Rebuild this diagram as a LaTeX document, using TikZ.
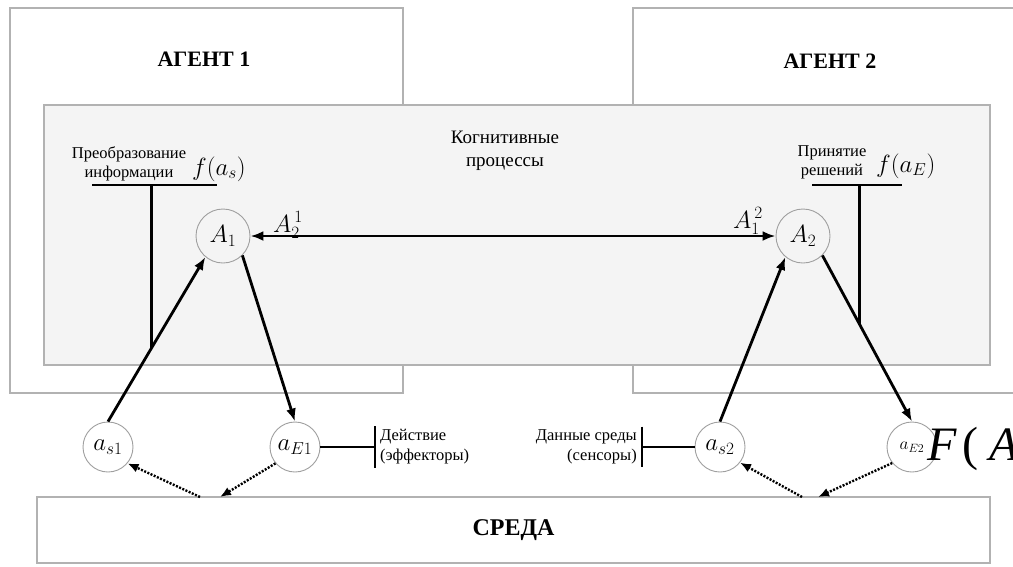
\documentclass[tikz,border=0pt]{standalone}
\usepackage{fontspec}
\setmainfont{Liberation Serif}
\usetikzlibrary{arrows.meta}

\tikzset{
  frame/.style={draw=gray!60, line width=1.2pt},
  agentbox/.style={frame, fill=white},
  cogbox/.style={frame, fill=gray!9},
  envbox/.style={frame, fill=white, minimum width=953pt, minimum height=66pt,
    font=\bfseries\fontsize{24}{24}\selectfont},
  title/.style={font=\bfseries\fontsize{22}{22}\selectfont},
  txt/.style={font=\fontsize{19}{23}\selectfont, align=center},
  note/.style={font=\fontsize{16.5}{19}\selectfont, inner sep=0pt},
  side/.style={font=\fontsize{16.5}{20}\selectfont, inner xsep=5pt, inner ysep=3pt},
  mlabel/.style={font=\fontsize{23}{23}\selectfont, inner sep=0pt},
  state/.style={circle, draw=gray!75, line width=0.9pt, minimum size=54pt,
    inner sep=0pt, font=\fontsize{23}{23}\selectfont},
  sensor/.style={state, fill=white, minimum size=50pt},
  link/.style={line width=2.8pt, >={Latex[length=13pt,width=10pt]}},
  envlink/.style={line width=2.4pt, dash pattern=on 2pt off 1.5pt,
    >={Latex[length=11pt,width=9pt]}},
  bar/.style={line width=2.8pt}
}

\begin{document}
\begin{tikzpicture}[x=1pt,y=-1pt]
\useasboundingbox (0,0) rectangle (1013,566);

% agents
\draw[agentbox] (10,8) rectangle (403,393);
\draw[agentbox] (633,8) rectangle (1030,393);
\node[title] (ag1) at (204,59) {АГЕНТ 1};
\node[title] (ag2) at (830,61) {АГЕНТ 2};

% cognitive layer
\draw[cogbox] (44,105) rectangle (990,365);
\node[txt] (cog) at (505,151) {Когнитивные\\процессы};

% states
\node[state, fill=gray!9] (A1) at (223,236) {$A_1$};
\node[state, fill=gray!9] (A2) at (803,236) {$A_2$};
\node[sensor] (as1) at (108,447) {$a_{s1}$};
\node[sensor] (aE1) at (295,447) {$a_{E1}$};
\node[sensor] (as2) at (720,447) {$a_{s2}$};
\node[sensor, font=\fontsize{18}{18}\selectfont] (aE2) at (912,447) {$a_{E2}$};
\node[anchor=west, inner sep=0pt, font=\fontsize{48}{48}\selectfont] (FA) at (927,449)
  {\textit{F}\kern6pt(\kern11pt\textit{A}};

% environment
\node[envbox] (env) at (513.5,530) {СРЕДА};
\coordinate (e1) at (200,497);
\coordinate (e2) at (220,497);
\coordinate (e3) at (802,497);
\coordinate (e4) at (818,497);

% exchange between agents
\draw[link,<->] (A1) -- (A2);
\node[mlabel] (A21) at (288,225) {$A_2^{\,1}$};
\node[mlabel] (A12) at (748,221) {$A_1^{\,2}$};

% perception / action loops
\draw[link,->] (as1.north) -- coordinate[pos=0.45] (p1) (A1.230);
\draw[link,->] (A1.-45) -- (aE1.north);
\draw[link,->] (as2.north) -- (A2.230);
\draw[link,->] (A2.-45) -- coordinate[pos=0.41] (p2) (aE2.north);

\draw[envlink,->] (e1) -- (as1.-40);
\draw[envlink,->] (aE1.220) -- (e2);
\draw[envlink,->] (e3) -- (as2.-38);
\draw[envlink,->] (aE2.219) -- (e4);

% callouts
\coordinate (convL) at (92,185);
\coordinate (convR) at (217,185);
\draw[bar] (convL) -- (convR);
\draw[bar] (p1) -- (p1 |- convL);
\node[note, align=center] (conv) at (129,164) {Преобразование\\информации};
\node[mlabel, anchor=west] (fas) at (192,169) {$f(a_s)$};

\coordinate (decL) at (812,185);
\coordinate (decR) at (902,185);
\draw[bar] (decL) -- (decR);
\draw[bar] (p2) -- (p2 |- decL);
\node[note, align=center] (dec) at (832,162) {Принятие\\решений};
\node[mlabel, anchor=west] (fae) at (876,166) {$f(a_E)$};

\node[side, anchor=west, align=left] (act) at (375,447) {Действие\\(эффекторы)};
\draw[bar] (act.north west) -- (act.south west);
\draw[line width=2.2pt] (aE1.east) -- (act.west);

\node[side, anchor=east, align=right] (sens) at (642,447) {Данные среды\\(сенсоры)};
\draw[bar] (sens.north east) -- (sens.south east);
\draw[line width=2.2pt] (sens.east) -- (as2.west);
\end{tikzpicture}
\end{document}
